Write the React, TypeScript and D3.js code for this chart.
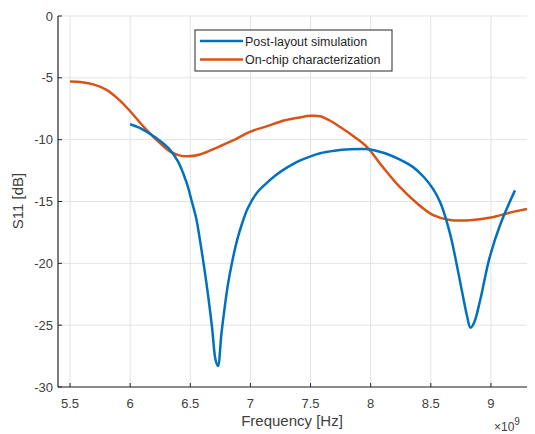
import React from "react";
import * as d3 from "d3";

const W = 535;
const H = 434;

const xTicks = [5.5, 6, 6.5, 7, 7.5, 8, 8.5, 9];
const yTicks = [0, -5, -10, -15, -20, -25, -30];

// Post-layout simulation (GHz, dB)
const simFreq = [6.0, 6.08, 6.16, 6.25, 6.33, 6.4, 6.44, 6.48, 6.51, 6.55, 6.58, 6.63, 6.68, 6.71, 6.73, 6.76, 6.81, 6.85, 6.89, 6.93, 6.98, 7.05, 7.13, 7.2, 7.28, 7.35, 7.41, 7.5, 7.58, 7.7, 7.83, 7.95, 8.02, 8.12, 8.24, 8.35, 8.44, 8.52, 8.58, 8.66, 8.74, 8.8, 8.83, 8.86, 8.91, 8.99, 9.08, 9.2];
const simDb = [-8.75, -9.05, -9.5, -10.1, -10.8, -11.8, -12.7, -13.8, -14.9, -16.4, -18.1, -21.3, -25.1, -27.8, -28.3, -25.6, -21.9, -19.8, -18.1, -16.8, -15.5, -14.35, -13.55, -12.95, -12.4, -12.0, -11.7, -11.35, -11.1, -10.9, -10.78, -10.75, -10.83, -11.1, -11.6, -12.2, -13.0, -14.0, -15.1, -17.6, -21.3, -24.2, -25.2, -24.8, -23.0, -19.5, -16.8, -14.1];

// On-chip characterization (GHz, dB)
const meaFreq = [5.5, 5.6, 5.7, 5.8, 5.9, 6.0, 6.08, 6.16, 6.25, 6.33, 6.4, 6.48, 6.58, 6.74, 6.87, 7.0, 7.14, 7.28, 7.41, 7.5, 7.58, 7.66, 7.75, 7.86, 7.97, 8.1, 8.24, 8.38, 8.52, 8.66, 8.85, 9.0, 9.08, 9.2, 9.3];
const meaDb = [-5.3, -5.35, -5.55, -5.95, -6.7, -7.7, -8.6, -9.45, -10.3, -10.95, -11.25, -11.35, -11.2, -10.56, -10.0, -9.35, -8.9, -8.45, -8.2, -8.07, -8.1, -8.45, -9.0, -9.75, -10.6, -12.2, -13.8, -15.1, -16.1, -16.5, -16.5, -16.3, -16.1, -15.8, -15.6];

const BLUE = "#0072BD";
const ORANGE = "#D95319";

export default function App() {
  const left = 58, right = 527, top = 16, bottom = 387;
  const x = d3.scaleLinear().domain([5.4, 9.3]).range([left, right]);
  const y = d3.scaleLinear().domain([-30, 0]).range([bottom, top]);
  const line = d3
    .line<[number, number]>()
    .x((d) => x(d[0]))
    .y((d) => y(d[1]))
    .curve(d3.curveCatmullRom.alpha(0.5));
  const simPts = simFreq.map((f, i) => [f, simDb[i]] as [number, number]);
  const meaPts = meaFreq.map((f, i) => [f, meaDb[i]] as [number, number]);
  const font = "Liberation Sans, Arial, sans-serif";
  const textCol = "#404040";

  return (
    <svg width={W} height={H} style={{ position: "absolute", left: 0, top: 0, background: "#fff" }} fontFamily={font}>
      <rect x={0} y={0} width={W} height={H} fill="#fff" />
      {xTicks.map((t) => (
        <line key={"gx" + t} x1={x(t)} x2={x(t)} y1={top} y2={bottom} stroke="#e3e3e3" strokeWidth={1} />
      ))}
      {yTicks.map((t) => (
        <line key={"gy" + t} x1={left} x2={right} y1={y(t)} y2={y(t)} stroke="#e3e3e3" strokeWidth={1} />
      ))}
      <path d={line(meaPts) || ""} fill="none" stroke={ORANGE} strokeWidth={2.5} strokeLinejoin="round" />
      <path d={line(simPts) || ""} fill="none" stroke={BLUE} strokeWidth={2.5} strokeLinejoin="round" />
      {/* axes */}
      <line x1={left} x2={left} y1={top} y2={bottom} stroke="#262626" strokeWidth={1.2} />
      <line x1={left} x2={right} y1={bottom} y2={bottom} stroke="#262626" strokeWidth={1.2} />
      {xTicks.map((t) => (
        <g key={"xt" + t}>
          <line x1={x(t)} x2={x(t)} y1={bottom} y2={bottom - 4} stroke="#262626" />
          <text x={x(t)} y={408} textAnchor="middle" fontSize={13} fill={textCol}>
            {t}
          </text>
        </g>
      ))}
      {yTicks.map((t) => (
        <g key={"yt" + t}>
          <line x1={left} x2={left + 4} y1={y(t)} y2={y(t)} stroke="#262626" />
          <text x={53} y={y(t) + 4.5} textAnchor="end" fontSize={13} fill={textCol}>
            {t}
          </text>
        </g>
      ))}
      <text x={292} y={426} textAnchor="middle" fontSize={15} fill={textCol}>
        Frequency [Hz]
      </text>
      <text x={494} y={431} fontSize={12} fill={textCol}>
        {"\u00d710"}
        <tspan dy={-6} fontSize={10}>9</tspan>
      </text>
      <text transform={`translate(23,201) rotate(-90)`} textAnchor="middle" fontSize={15} fill={textCol}>
        S11 [dB]
      </text>
      {/* legend */}
      <rect x={195} y={30} width={197} height={41} fill="#fff" stroke="#262626" strokeWidth={1} />
      <line x1={200} x2={243} y1={41} y2={41} stroke={BLUE} strokeWidth={2.5} />
      <line x1={200} x2={243} y1={59.5} y2={59.5} stroke={ORANGE} strokeWidth={2.5} />
      <text x={245} y={45.5} fontSize={12.5} fill="#262626">Post-layout simulation</text>
      <text x={245} y={64} fontSize={12.5} fill="#262626">On-chip characterization</text>
    </svg>
  );
}
